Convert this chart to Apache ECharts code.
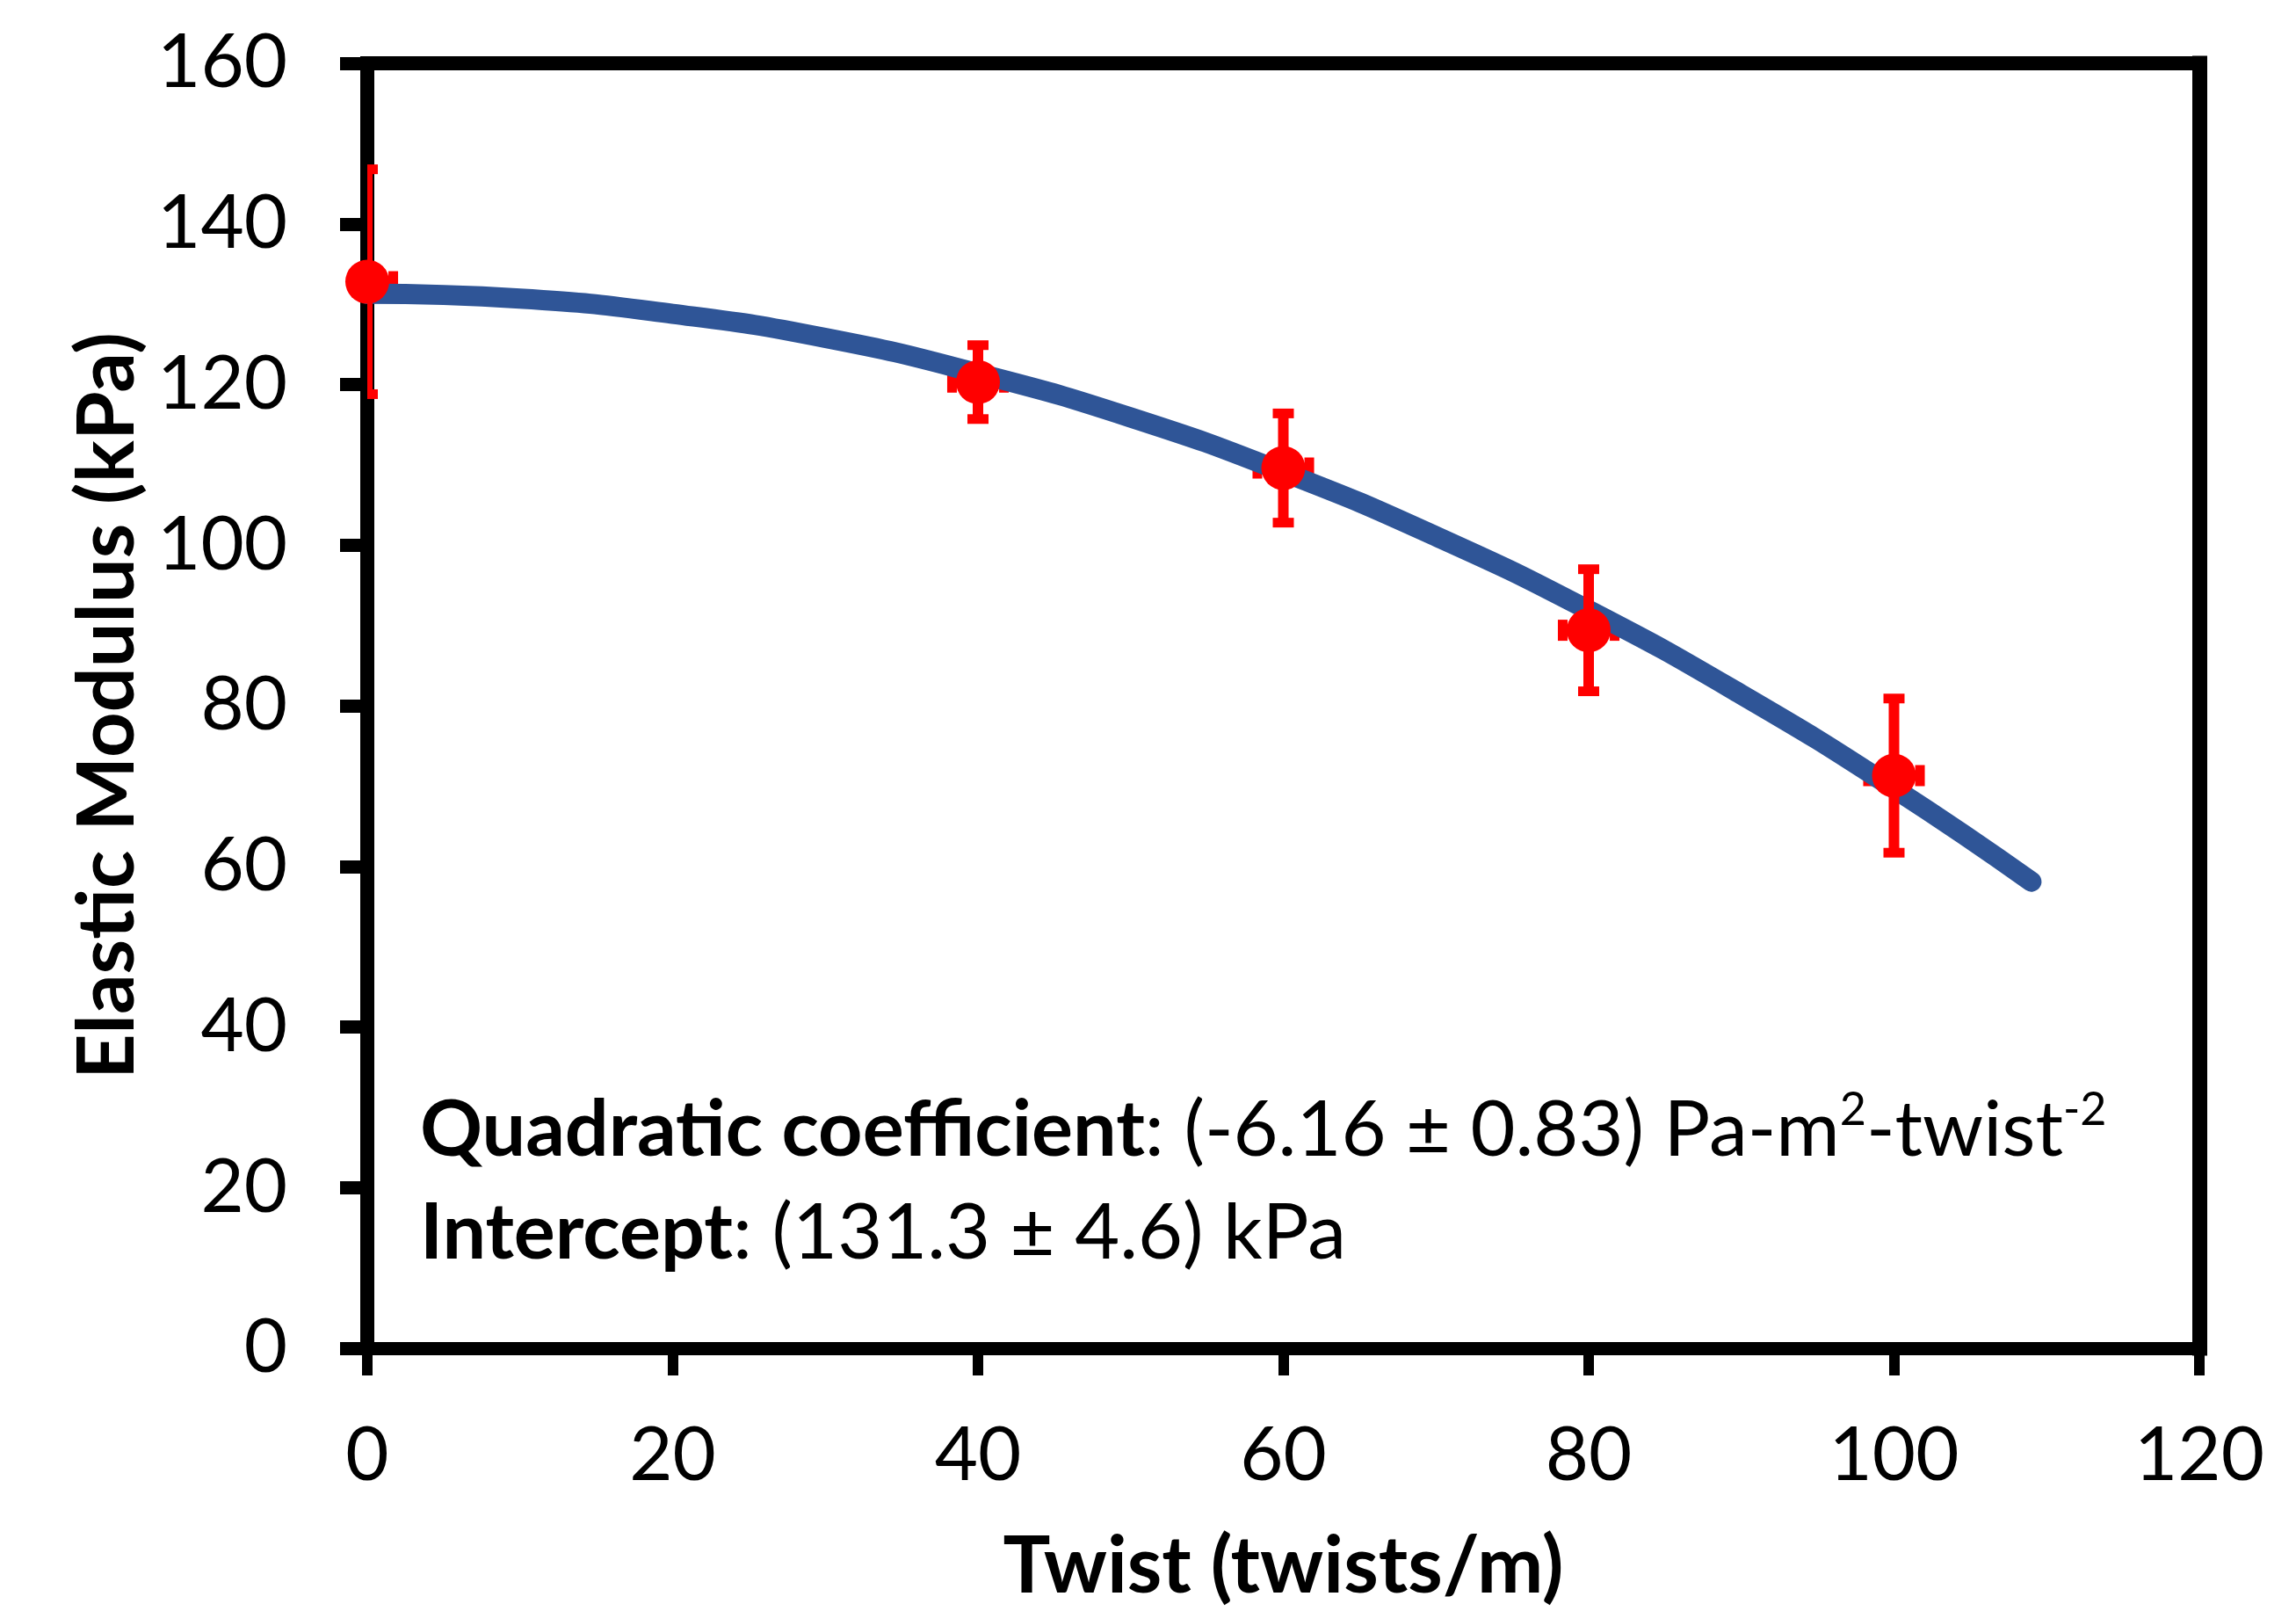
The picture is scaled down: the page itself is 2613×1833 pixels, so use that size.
<!DOCTYPE html>
<html>
<head>
<meta charset="utf-8">
<script src="https://cdn.jsdelivr.net/npm/echarts@6/dist/echarts.min.js"></script>
<style>
  html, body { margin: 0; padding: 0; background: #fff; }
  #chart { width: 2613px; height: 1833px; }
</style>
</head>
<body>
<div id="chart"></div>
<script>
// measured points
const twist = [0, 40, 60, 80, 100];
const modulus = [132.8, 120.3, 109.6, 89.4, 71.3];
const modulusErr = [14.0, 4.6, 6.8, 7.6, 9.6];
const twistErr = [1.7, 1.7, 1.7, 1.7, 1.7];

// quadratic fit line
const fitTwist = [0, 10, 20, 30, 40, 50, 60, 70, 80, 90, 100, 109];
const fitModulus = [131.3, 130.7, 128.8, 125.8, 121.4, 115.9, 109.1, 101.1, 91.9, 81.4, 69.7, 58.1];

// axis ticks
const xMin = 0, xMax = 120, xStep = 20;
const yMin = 0, yMax = 160, yStep = 20;

const FONT = 'Lato, "Open Sans", sans-serif';

let points = twist.map((x, i) => [x, modulus[i], modulusErr[i], twistErr[i]]);
let fitLine = fitTwist.map((x, i) => [x, fitModulus[i]]);

function barsY(params, api) {
    let x = api.value(0), y = api.value(1), e = api.value(2);
    let top = api.coord([x, y + e]);
    let bot = api.coord([x, y - e]);
    let red = { stroke: '#FF0000', lineWidth: 12 };
    let cap = { stroke: '#FF0000', lineWidth: 11 };
    return {
        type: 'group',
        children: [
            { type: 'line', shape: { x1: top[0], y1: top[1], x2: bot[0], y2: bot[1] }, style: red },
            { type: 'line', shape: { x1: top[0] - 12, y1: top[1], x2: top[0] + 12, y2: top[1] }, style: cap },
            { type: 'line', shape: { x1: bot[0] - 12, y1: bot[1], x2: bot[0] + 12, y2: bot[1] }, style: cap }
        ]
    };
}

function barsX(params, api) {
    let x = api.value(0), y = api.value(1), e = api.value(3);
    let l = api.coord([x - e, y]);
    let r = api.coord([x + e, y]);
    let red = { stroke: '#FF0000', lineWidth: 12 };
    let cap = { stroke: '#FF0000', lineWidth: 11 };
    return {
        type: 'group',
        children: [
            { type: 'line', shape: { x1: l[0], y1: l[1], x2: r[0], y2: r[1] }, style: red },
            { type: 'line', shape: { x1: l[0], y1: l[1] - 12, x2: l[0], y2: l[1] + 12 }, style: cap },
            { type: 'line', shape: { x1: r[0], y1: r[1] - 12, x2: r[0], y2: r[1] + 12 }, style: cap }
        ]
    };
}

let chart = echarts.init(document.getElementById('chart'), null, { renderer: 'canvas' });

let option = {
    backgroundColor: '#ffffff',
    animation: false,
    grid: { left: 418, right: 110, top: 72, bottom: 293 },
    xAxis: [
        {
            type: 'value',
            min: xMin,
            max: xMax,
            interval: xStep,
            position: 'bottom',
            name: 'Twist (twists/m)',
            nameLocation: 'middle',
            nameGap: 204,
            nameTextStyle: { fontFamily: FONT, fontSize: 90, fontWeight: 'bold', color: '#000' },
            axisLine: { show: true, onZero: false, lineStyle: { color: '#000', width: 15, cap: 'square' } },
            axisTick: { show: true, inside: false, length: 31, lineStyle: { color: '#000', width: 12 } },
            axisLabel: { margin: 80, fontFamily: FONT, fontSize: 85, color: '#000' },
            splitLine: { show: false }
        },
        {
            type: 'value',
            min: xMin,
            max: xMax,
            interval: xStep,
            position: 'top',
            axisLine: { show: true, onZero: false, lineStyle: { color: '#000', width: 16, cap: 'square' } },
            axisTick: { show: false },
            axisLabel: { show: false },
            splitLine: { show: false }
        }
    ],
    yAxis: [
        {
            type: 'value',
            min: yMin,
            max: yMax,
            interval: yStep,
            position: 'left',
            name: 'Elastic Modulus (kPa)',
            nameLocation: 'middle',
            nameGap: 243,
            nameTextStyle: { fontFamily: FONT, fontSize: 90, fontWeight: 'bold', color: '#000' },
            axisLine: { show: true, onZero: false, lineStyle: { color: '#000', width: 16, cap: 'square' } },
            axisTick: { show: true, inside: false, length: 31, lineStyle: { color: '#000', width: 15 } },
            axisLabel: { margin: 91, fontFamily: FONT, fontSize: 85, color: '#000' },
            splitLine: { show: false }
        },
        {
            type: 'value',
            min: yMin,
            max: yMax,
            interval: yStep,
            position: 'right',
            axisLine: { show: true, onZero: false, lineStyle: { color: '#000', width: 17, cap: 'square' } },
            axisTick: { show: false },
            axisLabel: { show: false },
            splitLine: { show: false }
        }
    ],
    series: [
        {
            type: 'custom',
            name: 'xerr',
            coordinateSystem: 'cartesian2d',
            renderItem: barsX,
            encode: { x: 0, y: 1 },
            data: points,
            clip: true,
            z: 1
        },
        {
            type: 'line',
            name: 'fit',
            data: fitLine,
            smooth: true,
            symbol: 'none',
            lineStyle: { color: '#2F5597', width: 23, cap: 'round' },
            z: 2
        },
        {
            type: 'custom',
            name: 'yerr',
            coordinateSystem: 'cartesian2d',
            renderItem: barsY,
            encode: { x: 0, y: 1 },
            data: points,
            clip: true,
            z: 3
        },
        {
            type: 'scatter',
            name: 'data',
            data: points.map(p => [p[0], p[1]]),
            symbol: 'circle',
            symbolSize: 50,
            itemStyle: { color: '#FF0000', opacity: 1 },
            clip: false,
            z: 4
        }
    ],
    graphic: [
        {
            type: 'text',
            x: 478,
            y: 1237,
            z: 10,
            style: {
                text: '{b|Quadratic coefficient}{r|: (-6.16 ± 0.83) Pa-m}{s|2}{r|-twist}{s|-2}',
                verticalAlign: 'top',
                rich: {
                    b: { fontFamily: FONT, fontSize: 88, fontWeight: 'bold', fill: '#000', lineHeight: 100 },
                    r: { fontFamily: FONT, fontSize: 88, fill: '#000', lineHeight: 100 },
                    s: { fontFamily: FONT, fontSize: 52, fill: '#000', lineHeight: 52, verticalAlign: 'top' }
                }
            }
        },
        {
            type: 'text',
            x: 478,
            y: 1354,
            z: 10,
            style: {
                text: '{b|Intercept}{r|: (131.3 ± 4.6) kPa}',
                verticalAlign: 'top',
                rich: {
                    b: { fontFamily: FONT, fontSize: 88, fontWeight: 'bold', fill: '#000', lineHeight: 100 },
                    r: { fontFamily: FONT, fontSize: 88, fill: '#000', lineHeight: 100 }
                }
            }
        }
    ]
};

chart.setOption(option);
window.addEventListener('resize', function () {
    chart.resize();
});
</script>
</body>
</html>
